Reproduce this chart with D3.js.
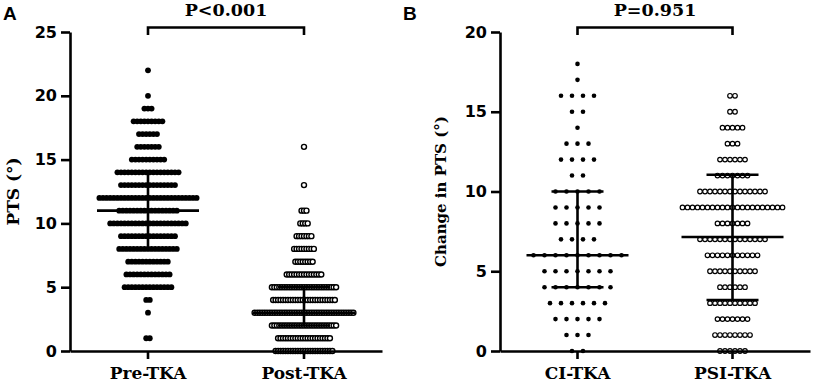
<!DOCTYPE html>
<html>
<head>
<meta charset="utf-8">
<script src="https://cdn.jsdelivr.net/npm/d3@7"></script>
<style>
  body { margin: 0; background: #fff; }
  svg text { fill: #000; }
  .tick text { font-family: 'DejaVu Sans', sans-serif; font-weight: bold; font-size: 16px; }
</style>
</head>
<body>
<div class="container"></div>
<script>
// panel A
const groupsA = ['Pre-TKA', 'Post-TKA']
const preValues = [22, 20, 19, 18, 17, 16, 15, 14, 13, 12, 11, 10, 9, 8, 7, 6, 5, 4, 3, 1]
const preCounts = [1, 1, 3, 9, 6, 7, 10, 18, 16, 28, 17, 22, 16, 17, 12, 13, 14, 2, 1, 2]
const postValues = [16, 13, 11, 10, 9, 8, 7, 6, 5, 4, 3, 2, 1, 0]
const postCounts = [1, 1, 3, 4, 7, 9, 8, 15, 27, 26, 41, 27, 22, 24]
const centerA = [11, 3]
const lowA = [8, 2]
const highA = [14, 5]
const ticksA = [0, 5, 10, 15, 20, 25]

// panel B
const groupsB = ['CI-TKA', 'PSI-TKA']
const ciValues = [18, 17, 16, 15, 14, 13, 12, 11, 10, 9, 8, 7, 6, 5, 4, 3, 2, 1, 0]
const ciCounts = [1, 1, 4, 2, 1, 3, 4, 2, 5, 5, 5, 4, 9, 7, 7, 6, 5, 3, 2]
const psiValues = [16, 15, 14, 13, 12, 11, 10, 9, 8, 7, 6, 5, 4, 3, 2, 1, 0]
const psiCounts = [2, 2, 5, 3, 6, 7, 14, 21, 7, 14, 11, 10, 6, 10, 7, 8, 6]
const centerB = [6, 7.15]
const lowB = [4, 3.2]
const highB = [10, 11.05]
const ticksB = [0, 5, 10, 15, 20]

const pLabels = ['P<0.001', 'P=0.951']
const yTitles = ['PTS (°)', 'Change in PTS (°)']
const panelLetters = ['A', 'B']

let width = 813
let height = 384
let plotTop = 32, plotBottom = 351

let svg = d3.select('.container')
    .append('svg')
    .attr('width', width)
    .attr('height', height)

function panel(opt) {
    let g = svg.append('g')
    let x = d3.scaleBand().domain(opt.groups).range([opt.left, opt.right]).padding(0)
    let y = d3.scaleLinear().domain([0, opt.max]).range([plotBottom, plotTop])
    let cx = (name) => x(name) + x.bandwidth() / 2

    // dots
    opt.series.forEach((s) => {
        let pts = []
        s.values.forEach((v, i) => {
            let n = s.counts[i]
            for (let k = 0; k < n; k++) {
                pts.push({ v: v, off: (k - (n - 1) / 2) * s.step })
            }
        })
        g.append('g')
            .selectAll('circle')
            .data(pts)
            .enter()
            .append('circle')
            .attr('cx', d => cx(s.name) + d.off)
            .attr('cy', d => y(d.v))
            .attr('r', s.r)
            .attr('fill', s.open ? '#fff' : '#000')
            .attr('stroke', s.open ? '#000' : 'none')
            .attr('stroke-width', s.sw || 0)
    })

    // median / error bars
    opt.groups.forEach((name, i) => {
        let c = cx(name)
        let bars = g.append('g').attr('stroke', '#000').attr('stroke-width', 2.6)
        bars.append('line').attr('x1', c).attr('x2', c).attr('y1', y(opt.low[i])).attr('y2', y(opt.high[i]))
        bars.append('line').attr('x1', c - 51).attr('x2', c + 51).attr('y1', y(opt.center[i])).attr('y2', y(opt.center[i]))
        bars.append('line').attr('x1', c - 26).attr('x2', c + 26).attr('y1', y(opt.low[i])).attr('y2', y(opt.low[i]))
        bars.append('line').attr('x1', c - 26).attr('x2', c + 26).attr('y1', y(opt.high[i])).attr('y2', y(opt.high[i]))
    })

    // y axis
    let ya = g.append('g')
        .attr('transform', `translate(${opt.left},0)`)
        .call(d3.axisLeft(y).tickValues(opt.ticks).tickSize(9).tickSizeOuter(0).tickPadding(4))
    ya.selectAll('path, line').attr('stroke', '#000').attr('stroke-width', 2.6)

    // x axis
    let xa = g.append('g')
        .attr('transform', `translate(0,${plotBottom})`)
        .call(d3.axisBottom(x).tickSize(8).tickSizeOuter(0).tickPadding(8))
    xa.selectAll('path, line').attr('stroke', '#000').attr('stroke-width', 2.6)
    xa.selectAll('text').style('font-family', 'DejaVu Serif').style('font-size', '17px')

    // y title
    g.append('text')
        .attr('transform', `translate(${opt.titleX},${(plotTop + plotBottom) / 2}) rotate(-90)`)
        .attr('text-anchor', 'middle')
        .attr('font-family', 'DejaVu Serif')
        .attr('font-weight', 'bold')
        .attr('font-size', opt.titleSize)
        .text(opt.title)

    // panel letter
    g.append('text')
        .attr('x', opt.letterX)
        .attr('y', 20)
        .attr('font-family', 'Liberation Sans')
        .attr('font-weight', 'bold')
        .attr('font-size', 19)
        .text(opt.letter)

    // significance bracket
    let a = cx(opt.groups[0]), b = cx(opt.groups[1])
    g.append('path')
        .attr('d', `M${a},35V27.5H${b}V35`)
        .attr('fill', 'none')
        .attr('stroke', '#000')
        .attr('stroke-width', 2.6)
    g.append('text')
        .attr('x', (a + b) / 2)
        .attr('y', 16)
        .attr('text-anchor', 'middle')
        .attr('font-family', 'DejaVu Serif')
        .attr('font-weight', 'bold')
        .attr('font-size', 17.5)
        .text(opt.p)
}

panel({
    groups: groupsA, left: 70, right: 382, max: 25, ticks: ticksA,
    center: centerA, low: lowA, high: highA,
    series: [
        { name: groupsA[0], values: preValues, counts: preCounts, step: 3.6, r: 2.9, open: false },
        { name: groupsA[1], values: postValues, counts: postCounts, step: 2.47, r: 2.5, open: true, sw: 1.4 }
    ],
    title: yTitles[0], titleX: 19, titleSize: 17, letter: panelLetters[0], letterX: 3, p: pLabels[0]
})

panel({
    groups: groupsB, left: 500, right: 810, max: 20, ticks: ticksB,
    center: centerB, low: lowB, high: highB,
    series: [
        { name: groupsB[0], values: ciValues, counts: ciCounts, step: 11, r: 2.3, open: false },
        { name: groupsB[1], values: psiValues, counts: psiCounts, step: 5, r: 2.3, open: true, sw: 1.2 }
    ],
    title: yTitles[1], titleX: 446, titleSize: 15, letter: panelLetters[1], letterX: 403, p: pLabels[1]
})
</script>
</body>
</html>
